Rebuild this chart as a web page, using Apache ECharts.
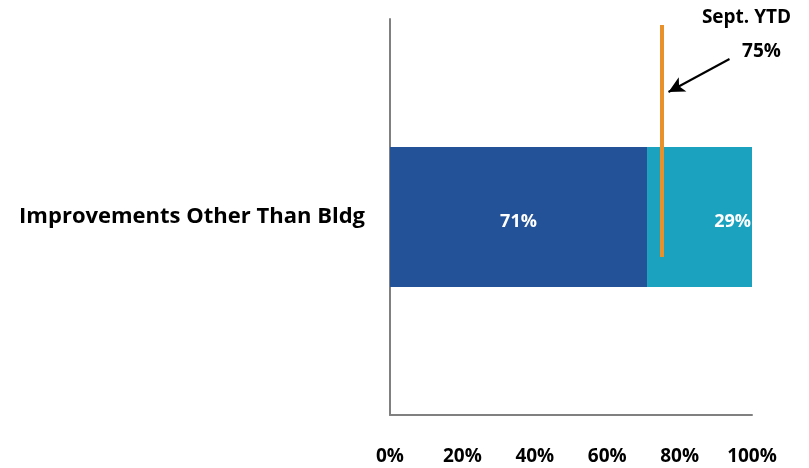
<!DOCTYPE html>
<html>
<head>
<meta charset="utf-8">
<script src="https://cdn.jsdelivr.net/npm/echarts@6/dist/echarts.min.js"></script>
<style>
  html, body { margin: 0; padding: 0; background: #ffffff; }
  #chart { width: 809px; height: 468px; }
</style>
</head>
<body>
<div id="chart"></div>
<script>
// Share of the budget category, split into two parts (percent)
const categories = ['Improvements Other Than Bldg'];
const firstShare = [71];
const secondShare = [29];
const xTicks = [0, 20, 40, 60, 80, 100];
// Year-to-date benchmark marker
const ytdValue = 75;
const ytdTitle = 'Sept. YTD';

const FONT = 'Open Sans';
const chart = echarts.init(document.getElementById('chart'));

const boldText = (size, color) => ({
  fontFamily: FONT, fontWeight: 'bold', fontSize: size, color: color
});

chart.setOption({
  animation: false,
  grid: { left: 390, right: 57, top: 19, bottom: 53 },
  xAxis: {
    type: 'value',
    min: xTicks[0],
    max: xTicks[xTicks.length - 1],
    interval: xTicks[1] - xTicks[0],
    axisLine: { show: true, lineStyle: { color: '#808080', width: 2 } },
    axisTick: { show: false },
    splitLine: { show: false },
    axisLabel: Object.assign({ margin: 32, formatter: '{value}%' }, boldText(19, '#000000'))
  },
  yAxis: {
    type: 'category',
    data: categories,
    axisLine: { show: true, lineStyle: { color: '#808080', width: 2 } },
    axisTick: { show: false },
    axisLabel: Object.assign({ margin: 25, padding: [4, 0, 0, 0] }, boldText(22, '#000000'))
  },
  series: [
    {
      type: 'bar',
      stack: 'share',
      data: firstShare,
      barWidth: 140,
      itemStyle: { color: '#245299' },
      label: Object.assign({ show: true, position: 'inside', formatter: '{c}%', offset: [0, 5] }, boldText(18, '#ffffff'))
    },
    {
      type: 'bar',
      stack: 'share',
      data: secondShare,
      barWidth: 140,
      itemStyle: { color: '#1BA2BF' },
      label: Object.assign({ show: true, position: 'insideRight', distance: 1, formatter: '{c}%', offset: [0, 5] }, boldText(18, '#ffffff'))
    }
  ]
});

// Place the benchmark line, its callout arrow and text relative to the benchmark value
const px = chart.convertToPixel({ xAxisIndex: 0 }, ytdValue);

chart.setOption({
  series: [
    {
      markLine: {
        silent: true,
        z: 6,
        symbol: ['none', 'arrow'],
        symbolSize: [12, 16],
        label: { show: false },
        lineStyle: { color: '#000000', width: 2, type: 'solid' },
        data: [[{ x: px + 68, y: 59 }, { x: px + 7, y: 92 }]]
      }
    },
    {
      markLine: {
        silent: true,
        z: 5,
        symbol: ['none', 'none'],
        label: { show: false },
        lineStyle: { color: '#E8912B', width: 4, type: 'solid' },
        data: [[{ xAxis: ytdValue, y: 25 }, { xAxis: ytdValue, y: 257 }]]
      }
    }
  ],
  graphic: [
    {
      type: 'text', x: px + 85, y: 18,
      style: { text: ytdTitle, align: 'center', verticalAlign: 'middle', font: 'bold 19px ' + FONT, fill: '#000000' }
    },
    {
      type: 'text', x: px + 100, y: 52,
      style: { text: ytdValue + '%', align: 'center', verticalAlign: 'middle', font: 'bold 19px ' + FONT, fill: '#000000' }
    }
  ]
});
</script>
</body>
</html>
